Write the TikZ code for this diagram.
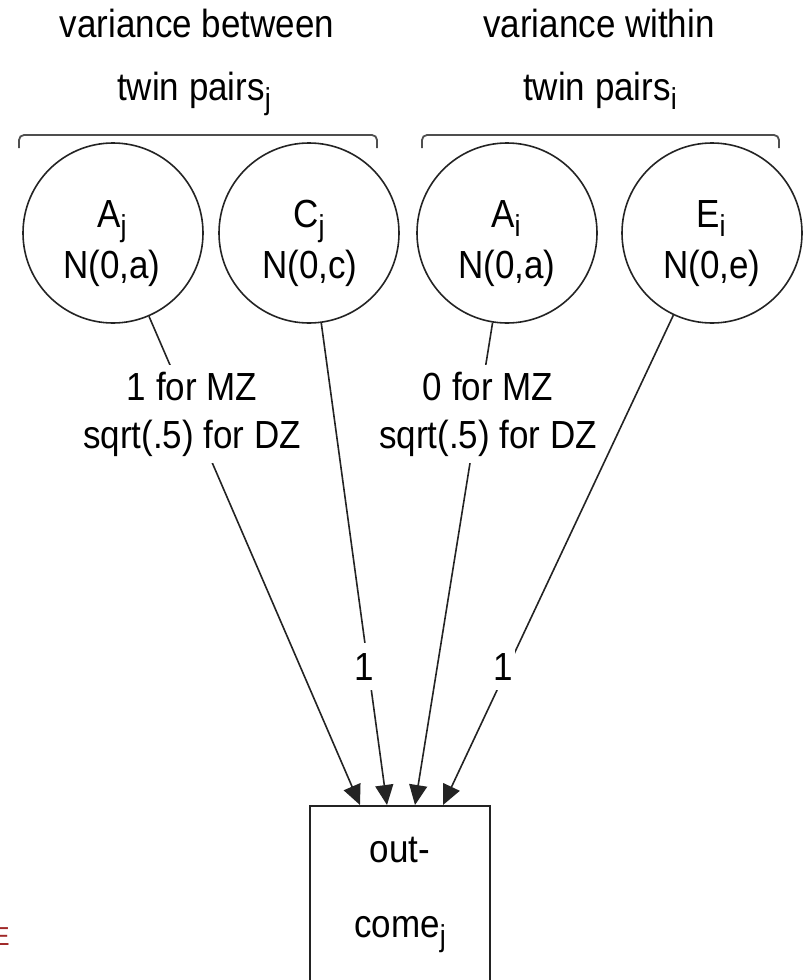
\documentclass[tikz,border=0pt]{standalone}
\usepackage{fontspec}
\setmainfont{Liberation Sans}
\usetikzlibrary{arrows.meta}
\definecolor{lineclr}{RGB}{35,35,35}
\definecolor{redE}{RGB}{160,40,40}
\newcommand\vs[1]{\scalebox{1}[1.12]{#1}}
\newcommand\sbx[1]{\raisebox{-8.5pt}{\fontsize{27}{27}\selectfont #1}}
\begin{document}
\begin{tikzpicture}[x=1pt,y=-1pt,
  txt/.style={font=\fontsize{35}{48}\selectfont, inner sep=0pt, anchor=base, text=black},
  varc/.style={draw=lineclr, circle, minimum size=180pt, inner sep=0pt, line width=1.6pt},
  arr/.style={draw=lineclr, line width=1.6pt, -{Triangle[length=20pt,width=18pt]}},
  elab/.style={txt, fill=white, align=center, anchor=center, inner xsep=1pt, inner ysep=7pt},
  onelab/.style={txt, fill=white, inner xsep=2pt, inner ysep=10pt},
  bracket/.style={draw=lineclr!80, rounded corners=5pt, line width=1.8pt},
  outbox/.style={draw=lineclr, line width=1.8pt, minimum width=180pt, minimum height=240pt, anchor=north, inner sep=0pt}
]
\useasboundingbox (0,0) rectangle (804,980);
\clip (0,0) rectangle (804,980);

% headings
\node[txt] (vb1) at (197,37) {\vs{variance between}};
\node[txt] (vb2) at (194,100) {\vs{twin pairs\sbx{j}}};
\node[txt] (vw1) at (599,37) {\vs{variance within}};
\node[txt] (vw2) at (600,100) {\vs{twin pairs\sbx{i}}};

% brackets
\draw[bracket] (19,148) -- (19,135) -- (377,135) -- (377,148);
\draw[bracket] (422,148) -- (422,135) -- (779,135) -- (779,148);

% latent variables
\node[varc] (Aj) at (113,233) {};
\node[varc] (Cj) at (309,233) {};
\node[varc] (Ai) at (507,233) {};
\node[varc] (Ei) at (712,233) {};

\node[txt] (Ajt) at (112,227) {\vs{A\sbx{j}}};
\node[txt] (Ajd) at (112,278) {\vs{N(0,a)}};
\node[txt] (Cjt) at (309,227) {\vs{C\sbx{j}}};
\node[txt] (Cjd) at (310,278) {\vs{N(0,c)}};
\node[txt] (Ait) at (506,227) {\vs{A\sbx{i}}};
\node[txt] (Aid) at (507,278) {\vs{N(0,a)}};
\node[txt] (Eit) at (711,227) {\vs{E\sbx{i}}};
\node[txt] (Eid) at (712,278) {\vs{N(0,e)}};

% outcome
\node[outbox] (out) at (400,805) {};
\node[txt] (outa) at (400,862) {\vs{out-}};
\node[txt] (outb) at (400,937) {\vs{come\sbx{j}}};

\coordinate (t1) at (360,805);
\coordinate (t2) at (387,805);
\coordinate (t3) at (415,805);
\coordinate (t4) at (443,805);

% paths
\draw[arr] (Aj) -- (t1);
\draw[arr] (Cj) -- (t2);
\draw[arr] (Ai) -- (t3);
\draw[arr] (Ei) -- (t4);

% path labels
\node[elab] (l1) at (192,414) {\vs{1 for MZ}\\\vs{sqrt(.5) for DZ}};
\node[elab] (l2) at (488,414) {\vs{0 for MZ}\\\vs{sqrt(.5) for DZ}};
\node[onelab] (l3) at (364,680) {\vs{1}};
\node[onelab] (l4) at (503,680) {\vs{1}};

% clipped red letter at the lower left
\node[font=\fontsize{26}{26}\selectfont, text=redE, inner sep=0pt, anchor=base east] (redE) at (10,945) {E};
\end{tikzpicture}
\end{document}
